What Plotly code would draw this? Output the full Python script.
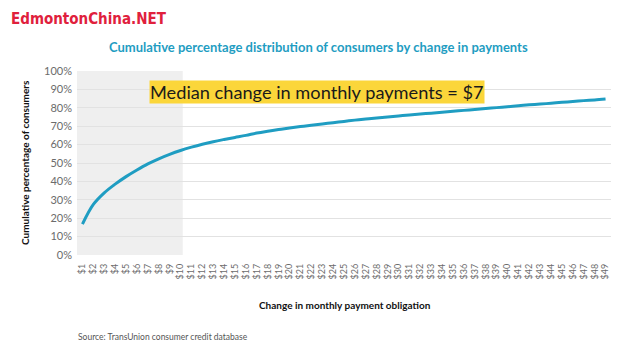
import plotly.graph_objects as go

categories = [f"${i}" for i in range(1, 50)]
cum_pct = [16.8, 27.5, 33.8, 38.5, 42.6, 46.2, 49.5, 52.3, 54.7, 56.8,
           58.6, 60.2, 61.6, 62.8, 63.9, 65.0, 66.3, 67.3, 68.2, 69.0,
           69.8, 70.5, 71.2, 71.9, 72.6, 73.3, 73.9, 74.5, 75.0, 75.6,
           76.1, 76.6, 77.1, 77.6, 78.1, 78.6, 79.1, 79.6, 80.1, 80.6,
           81.1, 81.6, 82.0, 82.5, 83.0, 83.4, 83.9, 84.3, 84.8]
y_ticks = list(range(0, 101, 10))
y_ticklabels = [f"{v}%" for v in y_ticks]

TEAL = "#1f9dc2"
GRAY_TXT = "#6b6b6b"

# page body margin offsets the figure by 8px; compensate
OFF = 8
W, H = 640, 364
L, T = 77 - OFF, 71 - OFF
R = W - (611 - OFF)
B = H - (255 - OFF)
PW, PH = W - L - R, H - T - B


def px_x(x):
    return (x - OFF - L) / PW


def px_y(y):
    return (H - B - (y - OFF)) / PH


fig = go.Figure()
fig.add_trace(go.Scatter(
    x=categories, y=cum_pct, mode="lines",
    line=dict(color=TEAL, width=3, shape="spline"),
    hoverinfo="skip", showlegend=False,
))

fig.add_shape(type="rect", xref="x", yref="y", x0=-0.5, x1=9.2, y0=0, y1=100,
              fillcolor="#efefef", line_width=0, layer="below")

fig.update_layout(
    width=W, height=H,
    margin=dict(l=L, r=R, t=T, b=B, autoexpand=False),
    paper_bgcolor="white", plot_bgcolor="white",
    font=dict(family="Lato, sans-serif", color=GRAY_TXT),
    xaxis=dict(
        type="category", range=[-0.5, 48.5], dtick=1, automargin=False,
        tickangle=-90, tickfont=dict(size=9, color=GRAY_TXT),
        showgrid=False, zeroline=False, showline=False, ticks="",
        ticklabelstandoff=6,
    ),
    yaxis=dict(
        range=[0, 100], tickvals=y_ticks, ticktext=y_ticklabels, automargin=False,
        tickfont=dict(size=11, color=GRAY_TXT),
        showgrid=True, gridcolor="#e2e2e2", gridwidth=1,
        zeroline=False, showline=False, ticks="", ticklabelstandoff=4,
    ),
)

fig.add_annotation(
    text="<b>Change in monthly payment obligation</b>",
    xref="paper", yref="paper", x=px_x(345), y=px_y(305),
    xanchor="center", yanchor="middle", showarrow=False,
    font=dict(size=10, color="#111111"),
)
fig.add_annotation(
    text="<b>Cumulative percentage of consumers</b>",
    xref="paper", yref="paper", x=px_x(25), y=px_y(163),
    xanchor="center", yanchor="middle", showarrow=False, textangle=-90,
    font=dict(size=10, color="#111111"),
)
fig.add_annotation(
    text="<b>Cumulative percentage distribution of consumers by change in payments</b>",
    xref="paper", yref="paper", x=px_x(318), y=px_y(47),
    xanchor="center", yanchor="middle", showarrow=False,
    font=dict(size=13, color=TEAL),
)
fig.add_annotation(
    text="Median change in monthly payments = $7",
    xref="paper", yref="paper", x=px_x(149), y=px_y(91.5),
    xanchor="left", yanchor="middle", showarrow=False,
    bgcolor="#fbd63a", borderpad=0,
    font=dict(size=18.2, color="#1a1a1a"),
)
fig.add_annotation(
    text="EdmontonChina.NET",
    xref="paper", yref="paper", x=px_x(9), y=px_y(8),
    xanchor="left", yanchor="top", showarrow=False,
    font=dict(size=15, color="#e0203c", family="DejaVu Sans Condensed, DejaVu Sans", weight="bold"),
)
fig.add_annotation(
    text="Source: TransUnion consumer credit database",
    xref="paper", yref="paper", x=px_x(76), y=px_y(337),
    xanchor="left", yanchor="middle", showarrow=False,
    font=dict(size=8.5, color="#555555"),
)

fig.write_html("out.html")
